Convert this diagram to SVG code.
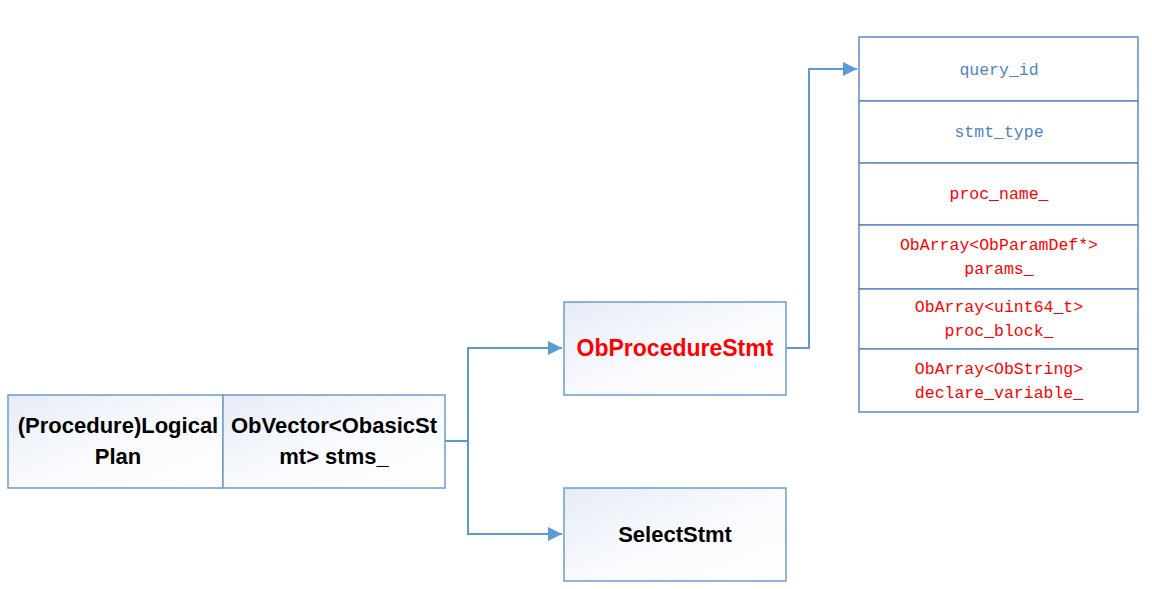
<svg xmlns="http://www.w3.org/2000/svg" width="1152" height="589" viewBox="0 0 1152 589">
<defs>
<linearGradient id="g" x1="0" y1="0" x2="1" y2="1">
<stop offset="0" stop-color="#e6ecf7"/>
<stop offset="0.5" stop-color="#f8fafd"/>
<stop offset="1" stop-color="#ffffff"/>
</linearGradient>
<marker id="arr" viewBox="0 0 10 10" refX="10" refY="5" markerWidth="16" markerHeight="14" markerUnits="userSpaceOnUse" orient="auto">
<path d="M0,0 L10,5 L0,10 z" fill="#5b9bd5"/>
</marker>
<style>
.box{fill:url(#g);stroke:#6d9ccf;stroke-width:1.5}
.cell{fill:#ffffff;stroke:#5b8cc4;stroke-width:1.5}
.b{font-family:"Liberation Sans",Arial,sans-serif;font-weight:bold;font-size:22px;text-anchor:middle;fill:#000}
.m{font-family:"Liberation Mono","Courier New",monospace;font-size:16.5px;text-anchor:middle}
.blue{fill:#4f86c0}
.red{fill:#ff0000}
.conn{fill:none;stroke:#5b9bd5;stroke-width:2}
</style>
</defs>
<g id="connectors">
<path class="conn" d="M445,441 H468 V348 H562" marker-end="url(#arr)"/>
<path class="conn" d="M468,441 V534 H562" marker-end="url(#arr)"/>
<path class="conn" d="M786,348 H809 V69 H857" marker-end="url(#arr)"/>
</g>
<g id="logical-plan">
<rect class="box" x="8" y="395" width="215" height="93"/>
<text class="b" x="118" y="433">(Procedure)Logical</text>
<text class="b" x="118" y="464">Plan</text>
</g>
<g id="stmts">
<rect class="box" x="223" y="395" width="222" height="93"/>
<text class="b" x="334" y="433">ObVector&lt;ObasicSt</text>
<text class="b" x="334" y="464">mt&gt; stms_</text>
</g>
<g id="procedure-stmt">
<rect class="box" x="564" y="302" width="222" height="93"/>
<text class="b" x="675" y="356" style="fill:#ff0000;font-size:23px">ObProcedureStmt</text>
</g>
<g id="select-stmt">
<rect class="box" x="564" y="488" width="222" height="93"/>
<text class="b" x="675" y="542">SelectStmt</text>
</g>
<g id="table">
<g id="row-query-id">
<rect class="cell" x="859" y="37" width="279" height="64"/>
<text class="m blue" x="999" y="75">query_id</text>
</g>
<g id="row-stmt-type">
<rect class="cell" x="859" y="101" width="279" height="62"/>
<text class="m blue" x="999" y="137">stmt_type</text>
</g>
<g id="row-proc-name">
<rect class="cell" x="859" y="163" width="279" height="62"/>
<text class="m red" x="999" y="199">proc_name_</text>
</g>
<g id="row-params">
<rect class="cell" x="859" y="225" width="279" height="64"/>
<text class="m red" x="999" y="250">ObArray&lt;ObParamDef*&gt;</text>
<text class="m red" x="999" y="274">params_</text>
</g>
<g id="row-proc-block">
<rect class="cell" x="859" y="289" width="279" height="60"/>
<text class="m red" x="999" y="312">ObArray&lt;uint64_t&gt;</text>
<text class="m red" x="999" y="336">proc_block_</text>
</g>
<g id="row-declare-variable">
<rect class="cell" x="859" y="349" width="279" height="63"/>
<text class="m red" x="999" y="374">ObArray&lt;ObString&gt;</text>
<text class="m red" x="999" y="398">declare_variable_</text>
</g>
</g>
</svg>
